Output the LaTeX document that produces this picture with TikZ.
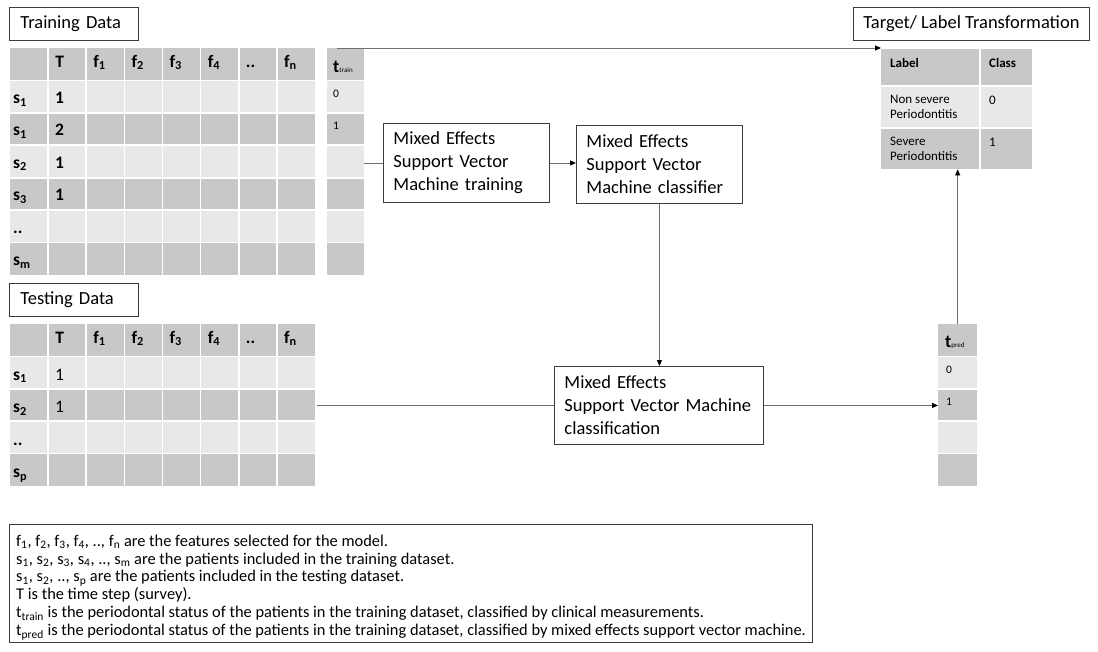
\documentclass[tikz,border=0pt]{standalone}
\usepackage{fontspec}
\setmainfont{Carlito}
\usetikzlibrary{arrows.meta,calc}
\definecolor{cdark}{HTML}{C8C8C8}
\definecolor{clight}{HTML}{E8E8E8}
\definecolor{cline}{HTML}{707070}
\definecolor{cbox}{HTML}{3C3C3C}
\newcommand{\sbs}[1]{\textsubscript{#1}}
\begin{document}
\begin{tikzpicture}[x=1pt,y=-1pt,
  procbox/.style={draw=cbox, line width=0.9pt, anchor=north west, inner xsep=10pt, inner ysep=0pt, align=left, font=\fontsize{18.5}{23}\selectfont},
  titlebox/.style={draw=cbox, line width=0.9pt, anchor=north west, inner xsep=11pt, inner ysep=0pt, align=left, font=\fontsize{18.5}{22}\selectfont, minimum height=33pt},
  area/.style={anchor=north west, inner sep=0pt},
  hd/.style={anchor=base west, inner sep=0pt, font=\fontsize{17.5}{20}\selectfont\bfseries},
  bd/.style={anchor=base west, inner sep=0pt, font=\fontsize{17.5}{20}\selectfont\bfseries},
  bdr/.style={anchor=base west, inner sep=0pt, font=\fontsize{17.5}{20}\selectfont},
  sm/.style={anchor=base west, inner sep=0pt, font=\fontsize{11.5}{13}\selectfont},
  lab/.style={anchor=base west, inner sep=0pt, align=left, font=\fontsize{13}{15}\selectfont},
  conn/.style={draw=cline, line width=0.8pt},
  arr/.style={conn, -{Triangle[length=6pt,width=5pt,black]}},
  grid/.style={white, line width=1.6pt}
]
\useasboundingbox[fill=white] (0,0) rectangle (1098,651);

% ---------- Training data ----------
\node[titlebox, minimum width=129pt, text width=107pt] (trtitle) at (9,7) {Training Data};
\node[area, minimum width=305pt, minimum height=227pt] (train) at (10,48) {};
\foreach \r in {0,...,6}{
  \pgfmathtruncatemacro\odd{mod(\r,2)}
  \ifnum\odd=1 \def\cc{clight}\else\def\cc{cdark}\fi
  \fill[\cc] (10,{48+\r*32.43}) rectangle (315,{48+(\r+1)*32.43});
}
\foreach \k in {1,...,7} \draw[grid] ({10+\k*38.125},48) -- ({10+\k*38.125},275);
\foreach \k in {1,...,6} \draw[grid] (10,{48+\k*32.43}) -- (315,{48+\k*32.43});
\foreach \c/\t in {1/T,2/f\sbs{1},3/f\sbs{2},4/f\sbs{3},5/f\sbs{4},6/..,7/f\sbs{n}}
  \node[hd] (trh\c) at ({10+\c*38.125+7},67) {\t};
\foreach \r/\t in {1/s\sbs{1},2/s\sbs{1},3/s\sbs{2},4/s\sbs{3},5/..,6/s\sbs{m}}
  \node[bd] (trs\r) at (13,{48+\r*32.43+23}) {\t};
\foreach \r/\t in {1/1,2/2,3/1,4/1}
  \node[bd] (trv\r) at (55,{48+\r*32.43+23}) {\t};

% ---------- t_train ----------
\node[area, minimum width=37pt, minimum height=227pt] (ttrain) at (327,48) {};
\foreach \r in {0,...,6}{
  \pgfmathtruncatemacro\odd{mod(\r,2)}
  \ifnum\odd=1 \def\cc{clight}\else\def\cc{cdark}\fi
  \fill[\cc] (327,{48+\r*32.43}) rectangle (364,{48+(\r+1)*32.43});
}
\foreach \k in {1,...,6} \draw[grid] (327,{48+\k*32.43}) -- (364,{48+\k*32.43});
\node[anchor=base west, inner sep=0pt] (ttrainh) at (333,72) {{\fontsize{18}{20}\selectfont\bfseries t}{\fontsize{7}{8}\selectfont train}};
\node[sm] (ttr0) at (333,{48+32.43+17}) {0};
\node[sm] (ttr1) at (333,{48+2*32.43+17}) {1};
\coordinate (tstart) at (337,48);

% ---------- Testing data ----------
\node[titlebox, minimum width=129pt, text width=107pt] (tetitle) at (9,283) {Testing Data};
\node[area, minimum width=305pt, minimum height=162pt] (test) at (10,324) {};
\foreach \r in {0,...,4}{
  \pgfmathtruncatemacro\odd{mod(\r,2)}
  \ifnum\odd=1 \def\cc{clight}\else\def\cc{cdark}\fi
  \fill[\cc] (10,{324+\r*32.4}) rectangle (315,{324+(\r+1)*32.4});
}
\foreach \k in {1,...,7} \draw[grid] ({10+\k*38.125},324) -- ({10+\k*38.125},486);
\foreach \k in {1,...,4} \draw[grid] (10,{324+\k*32.4}) -- (315,{324+\k*32.4});
\foreach \c/\t in {1/T,2/f\sbs{1},3/f\sbs{2},4/f\sbs{3},5/f\sbs{4},6/..,7/f\sbs{n}}
  \node[hd] (teh\c) at ({10+\c*38.125+7},343) {\t};
\foreach \r/\t in {1/s\sbs{1},2/s\sbs{2},3/..,4/s\sbs{p}}
  \node[bd] (tes\r) at (13,{324+\r*32.4+24}) {\t};
\foreach \r/\t in {1/1,2/1}
  \node[bdr] (tev\r) at (55,{324+\r*32.4+24}) {\t};

% ---------- t_pred ----------
\node[area, minimum width=39pt, minimum height=162pt] (tpred) at (938,324) {};
\foreach \r in {0,...,4}{
  \pgfmathtruncatemacro\odd{mod(\r,2)}
  \ifnum\odd=1 \def\cc{clight}\else\def\cc{cdark}\fi
  \fill[\cc] (938,{324+\r*32.4}) rectangle (977,{324+(\r+1)*32.4});
}
\foreach \k in {1,...,4} \draw[grid] (938,{324+\k*32.4}) -- (977,{324+\k*32.4});
\node[anchor=base west, inner sep=0pt] (tpredh) at (945,347) {{\fontsize{18}{20}\selectfont\bfseries t}{\fontsize{7}{8}\selectfont pred}};
\node[sm] (tpr0) at (946,{324+32.4+17}) {0};
\node[sm] (tpr1) at (946,{324+2*32.4+17}) {1};

% ---------- Label transformation ----------
\node[draw=cbox, line width=0.9pt, anchor=north west, inner xsep=4pt, inner ysep=0pt, font=\fontsize{18.5}{22}\selectfont, minimum height=33pt, minimum width=236pt] (lttitle) at (853,7) {Target/ Label Transformation};
\node[area, minimum width=151pt, minimum height=120pt] (labt) at (881,49) {};
\fill[cdark] (881,49) rectangle (1032,86);
\fill[clight] (881,86) rectangle (1032,128);
\fill[cdark] (881,128) rectangle (1032,169);
\draw[grid] (980,49) -- (980,169);
\draw[grid] (881,86) -- (1032,86);
\draw[grid] (881,128) -- (1032,128);
\node[lab, font=\fontsize{13}{15}\selectfont\bfseries] (lh1) at (890,67) {Label};
\node[lab, font=\fontsize{13}{15}\selectfont\bfseries] (lh2) at (989,67) {Class};
\node[lab, anchor=north west] (l1) at (890,95) {Non severe\\Periodontitis};
\node[lab] (c1) at (989,104) {0};
\node[lab, anchor=north west] (l2) at (890,137) {Severe\\Periodontitis};
\node[lab] (c2) at (989,146) {1};

% ---------- process boxes ----------
\node[procbox, minimum width=166pt, minimum height=79pt, text width=146pt] (b1) at (383,123) {Mixed Effects\\Support Vector\\Machine training};
\node[procbox, minimum width=166pt, minimum height=78pt, text width=146pt] (b2) at (576,125) {Mixed Effects\\Support Vector\\Machine classifier};
\node[procbox, minimum width=209pt, minimum height=78pt, text width=189pt] (b3) at (554,366) {Mixed Effects\\Support Vector Machine\\classification};

% ---------- legend ----------
\node[draw=cbox, line width=0.9pt, anchor=north west, minimum width=803pt, minimum height=118pt, inner sep=0pt] (legend) at (9,524) {};
\node[anchor=west, inner sep=0pt, align=left, font=\fontsize{16.4}{17.9}\selectfont] (legendtext) at ($(legend.west)+(7,4)$) {%
f\sbs{1}, f\sbs{2}, f\sbs{3}, f\sbs{4}, .., f\sbs{n} are the features selected for the model.\\
s\sbs{1}, s\sbs{2}, s\sbs{3}, s\sbs{4}, .., s\sbs{m} are the patients included in the training dataset.\\
s\sbs{1}, s\sbs{2}, .., s\sbs{p} are the patients included in the testing dataset.\\
T is the time step (survey).\\
t\sbs{train} is the periodontal status of the patients in the training dataset, classified by clinical measurements.\\
t\sbs{pred} is the periodontal status of the patients in the training dataset, classified by mixed effects support vector machine.};

% ---------- connectors ----------
\draw[arr] (tstart) -- (tstart -| labt.north west);
\draw[conn] (b1.west -| ttrain.east) -- (b1.west);
\draw[arr] (b1.east) -- (b1.east -| b2.west);
\draw[arr] (b2.south) -- (b2.south |- b3.north);
\draw[conn] ($(b3.west -| test.east)+(2,0)$) -- (b3.west);
\draw[arr] (b3.east) -- (b3.east -| tpred.west);
\draw[arr] (tpred.north) -- (tpred.north |- labt.south);
\end{tikzpicture}
\end{document}
